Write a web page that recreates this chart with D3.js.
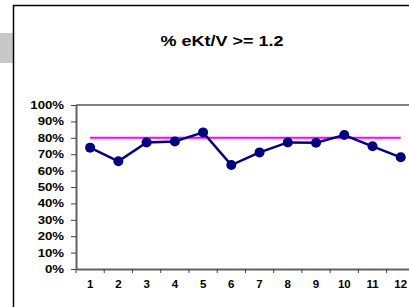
<!DOCTYPE html>
<html>
<head>
<meta charset="utf-8">
<script src="https://cdn.jsdelivr.net/npm/d3@7"></script>
<style>
  body { margin: 0; background: #fff; }
  svg { display: block; font-family: Arial, "Liberation Sans", sans-serif; }
</style>
</head>
<body>
<div id="chart"></div>
<script>
// chart data
const months = ["1", "2", "3", "4", "5", "6", "7", "8", "9", "10", "11", "12"];
const pctValues = [0.74, 0.657, 0.772, 0.778, 0.833, 0.634, 0.711, 0.772, 0.77, 0.817, 0.748, 0.681];
const targetValues = [0.8, 0.8, 0.8, 0.8, 0.8, 0.8, 0.8, 0.8, 0.8, 0.8, 0.8, 0.8];
const yTicks = [0, 0.1, 0.2, 0.3, 0.4, 0.5, 0.6, 0.7, 0.8, 0.9, 1.0];
const title = "% eKt/V >= 1.2";

const width = 409;
const height = 307;
const stretch = 1.2;  // the original text is a bit wide

const svg = d3.select("#chart")
    .append("svg")
    .attr("width", width)
    .attr("height", height);

// gray tab on the left and the outer frame
svg.append("rect")
    .attr("x", 0).attr("y", 33)
    .attr("width", 13).attr("height", 30)
    .attr("fill", "#c8c8c8");

svg.append("rect")
    .attr("x", 13.5).attr("y", 5.5)
    .attr("width", 420).attr("height", 320)
    .attr("fill", "#fff")
    .attr("stroke", "#000")
    .attr("stroke-width", 1.5);

svg.append("text")
    .attr("transform", `translate(222,46) scale(${stretch},1)`)
    .attr("text-anchor", "middle")
    .attr("font-size", "15px")
    .attr("font-weight", "bold")
    .text(title);

// plot area
const plotLeft = 76, plotTop = 105, plotBottom = 269;
const band = 28.24;

const x = d3.scaleBand()
    .domain(months)
    .range([plotLeft, plotLeft + band * months.length]);

const y = d3.scaleLinear()
    .domain([0, 1])
    .range([plotBottom, plotTop]);

// top border of plot area
svg.append("line")
    .attr("x1", plotLeft).attr("x2", width)
    .attr("y1", y(1)).attr("y2", y(1))
    .attr("stroke", "#808080")
    .attr("stroke-width", 2);

// y axis
const yAxis = svg.append("g")
    .attr("transform", `translate(${plotLeft},0)`)
    .call(d3.axisLeft(y).tickValues(yTicks).tickFormat(d3.format(".0%")).tickSize(5).tickSizeOuter(0));

yAxis.select(".domain").attr("stroke", "#606060").attr("stroke-width", 2);
yAxis.selectAll(".tick line").attr("stroke", "#404040");
yAxis.selectAll(".tick text")
    .attr("x", -12 / stretch)
    .attr("transform", `scale(${stretch},1)`)
    .attr("font-size", "11px")
    .attr("font-weight", "bold")
    .attr("font-family", "Arial, 'Liberation Sans', sans-serif")
    .attr("fill", "#000");

// x axis
const xAxis = svg.append("g")
    .attr("transform", `translate(0,${plotBottom})`)
    .call(d3.axisBottom(x).tickSize(0).tickSizeOuter(0));

xAxis.select(".domain").attr("stroke", "#606060").attr("stroke-width", 2);
xAxis.selectAll(".tick text")
    .attr("y", 12)
    .attr("transform", "scale(1.15,1)")
    .attr("font-size", "10px")
    .attr("font-weight", "bold")
    .attr("font-family", "Arial, 'Liberation Sans', sans-serif")
    .attr("fill", "#000");

// tick marks between categories
xAxis.selectAll(".sep")
    .data(months)
    .enter()
    .append("line")
    .attr("x1", d => x(d)).attr("x2", d => x(d))
    .attr("y1", 0).attr("y2", 4)
    .attr("stroke", "#404040");

const cx = d => x(d) + x.bandwidth() / 2;

// target line
svg.append("path")
    .datum(targetValues)
    .attr("fill", "none")
    .attr("stroke", "#ff00ff")
    .attr("stroke-width", 2)
    .attr("d", d3.line()
        .x((d, i) => cx(months[i]))
        .y(d => y(d)));

// series line
svg.append("path")
    .datum(pctValues)
    .attr("fill", "none")
    .attr("stroke", "#000080")
    .attr("stroke-width", 2.5)
    .attr("d", d3.line()
        .x((d, i) => cx(months[i]))
        .y(d => y(d)));

svg.selectAll(".dot")
    .data(pctValues)
    .enter()
    .append("circle")
    .attr("class", "dot")
    .attr("cx", (d, i) => cx(months[i]))
    .attr("cy", d => y(d))
    .attr("r", 5)
    .attr("fill", "#000080");
</script>
</body>
</html>
